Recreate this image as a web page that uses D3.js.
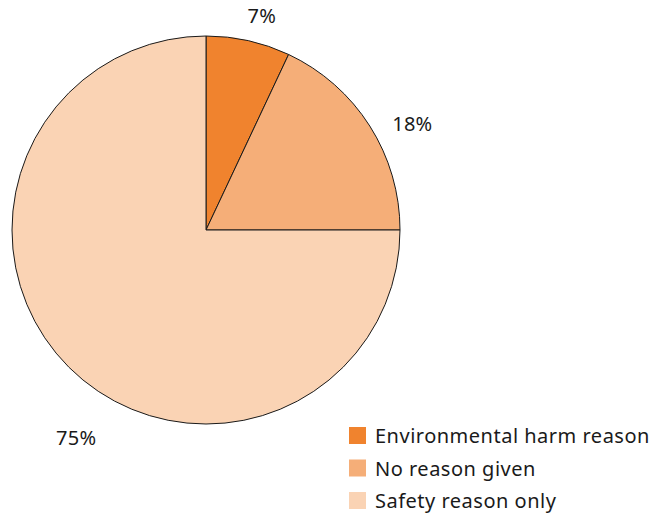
<!DOCTYPE html>
<html><head><meta charset="utf-8">
<script src="https://cdn.jsdelivr.net/npm/d3@7"></script>
<style>body{margin:0;background:#fff;} svg{display:block;}</style>
</head><body>
<svg id="chart" width="662" height="515"></svg>
<script>
const categories = ["Environmental harm reason", "No reason given", "Safety reason only"];
const values = [7, 18, 75];
const labels = ["7%", "18%", "75%"];
const colors = ["#F0832E", "#F5AE78", "#FAD3B4"];

const svg = d3.select("#chart");
const cx = 206, cy = 230, r = 194;
const g = svg.append("g").attr("transform", `translate(${cx},${cy})`);

const pie = d3.pie().sort(null).value(d => d);
const arcs = pie(values);
const arc = d3.arc().innerRadius(0).outerRadius(r);

g.selectAll("path").data(arcs).join("path")
  .attr("d", arc)
  .attr("fill", (d, i) => colors[i])
  .attr("stroke", "#1a1a1a")
  .attr("stroke-width", 1);

// label placement: radius and angle nudges per slice
const labelLayout = [{rad: 222, da: 2.0}, {rad: 232, da: 5.2}, {rad: 245, da: -13}];
g.selectAll("text.lab").data(arcs).join("text")
  .attr("class", "lab")
  .each(function(d, i) {
    const a = (d.startAngle + d.endAngle) / 2 + labelLayout[i].da * Math.PI / 180;
    const rr = labelLayout[i].rad;
    d3.select(this).attr("x", rr * Math.sin(a)).attr("y", -rr * Math.cos(a));
  })
  .attr("text-anchor", "middle")
  .attr("dominant-baseline", "central")
  .attr("font-family", "'Noto Sans', sans-serif")
  .attr("font-size", 20)
  .attr("letter-spacing", 0.3)
  .attr("fill", "#1a1a1a")
  .text((d, i) => labels[i]);

const lg = svg.append("g").attr("transform", "translate(349,427)");
const rows = lg.selectAll("g").data(categories).join("g")
  .attr("transform", (d, i) => `translate(0,${i * 32.5})`);
rows.append("rect").attr("width", 17).attr("height", 17).attr("fill", (d, i) => colors[i]);
rows.append("text").attr("x", 26).attr("y", 8.5)
  .attr("dominant-baseline", "central")
  .attr("font-family", "'Noto Sans', sans-serif")
  .attr("font-size", 20)
  .attr("letter-spacing", 0.5)
  .attr("fill", "#1a1a1a")
  .text(d => d);
</script>
</body></html>
